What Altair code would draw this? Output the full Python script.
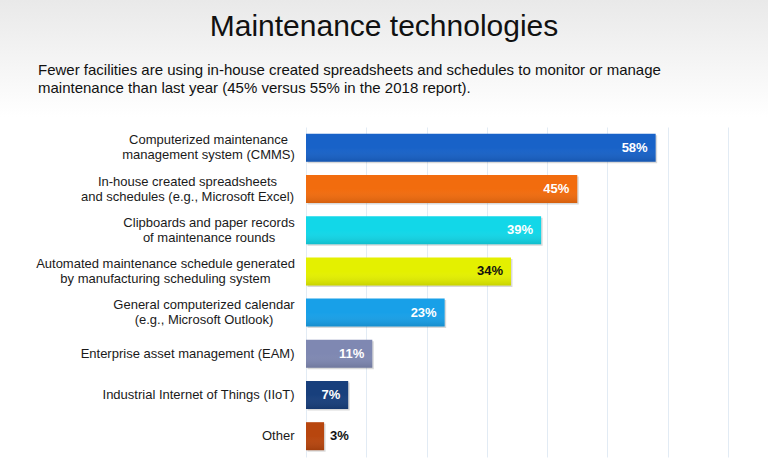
import altair as alt
import pandas as pd

categories = [
    "Computerized maintenance|management system (CMMS)",
    "In-house created spreadsheets|and schedules (e.g., Microsoft Excel)",
    "Clipboards and paper records|of maintenance rounds",
    "Automated maintenance schedule generated|by manufacturing scheduling system",
    "General computerized calendar|(e.g., Microsoft Outlook)",
    "Enterprise asset management (EAM)",
    "Industrial Internet of Things (IIoT)",
    "Other",
]
values = [58, 45, 39, 34, 23, 11, 7, 3]
bar_colors = ["#1862c8", "#f26c0e", "#12d7e8", "#e4f000", "#18a0e8", "#7f88b2", "#183f7c", "#b8460e"]
grid_values = list(range(0, 75, 5))

title_text = "Maintenance technologies"
subtitle_lines = [
    "Fewer facilities are using in-house created spreadsheets and schedules to monitor or manage",
    "maintenance than last year (45% versus 55% in the 2018 report).",
]

# half-widths (px) of the two-line label blocks, so their lines can be centred
# inside a right-aligned block
block_half = [86, 107, 85.5, 129, 90.5]

df = pd.DataFrame({"cat": categories, "pct": values})

FONT = "Liberation Sans"
GAP = 12

pad_conditions = [
    {"test": "datum.value == '%s'" % c, "value": GAP + h}
    for c, h in zip(categories[:5], block_half)
]

y_enc = alt.Y(
    "cat:N",
    sort=categories,
    title=None,
    scale=alt.Scale(paddingInner=0.32, paddingOuter=0.165),
    axis=alt.Axis(
        labelExpr="split(datum.label, '|')",
        ticks=False,
        domain=False,
        labelPadding={"condition": pad_conditions, "value": GAP},
        labelAlign={"condition": {"test": "indexof(datum.value, '|') >= 0", "value": "center"}, "value": "right"},
        labelFontSize=13,
        labelLineHeight=15,
        labelColor="#1a1a1a",
        labelFont=FONT,
        labelLimit=400,
        labelOffset={"condition": {"test": "indexof(datum.value, '|') >= 0", "value": -7.5}, "value": 0},
    ),
)
x_enc = alt.X(
    "pct:Q",
    title=None,
    scale=alt.Scale(domain=[0, 70], nice=False),
    axis=alt.Axis(
        values=grid_values,
        labels=False,
        ticks=False,
        domain=False,
        grid=True,
        gridColor="#e2ebf4",
        gridWidth=1,
    ),
)

base = alt.Chart(df)

shadow = base.mark_bar(color="#000000", opacity=0.15, xOffset=1.5, yOffset=1.5).encode(
    x=alt.X("pct:Q"),
    y=alt.Y("cat:N", sort=categories),
)

bars = base.mark_bar().encode(
    x=x_enc,
    y=y_enc,
    color=alt.Color("cat:N", sort=categories, legend=None,
                    scale=alt.Scale(domain=categories, range=bar_colors)),
)

shade = base.mark_bar().encode(
    x=alt.X("pct:Q"),
    y=alt.Y("cat:N", sort=categories),
    color=alt.value(alt.Gradient(gradient="linear", x1=0, x2=0, y1=0, y2=1,
                                 stops=[alt.GradientStop(color="rgba(255,255,255,0)", offset=0),
                                        alt.GradientStop(color="rgba(255,255,255,0)", offset=0.5),
                                        alt.GradientStop(color="rgba(0,0,0,0.12)", offset=1)])),
)

inside = base.transform_filter("datum.pct >= 5").transform_calculate(
    lab="datum.pct + '%'"
).mark_text(align="right", dx=-8, fontWeight="bold", fontSize=13, font=FONT).encode(
    x="pct:Q",
    y=alt.Y("cat:N", sort=categories),
    text="lab:N",
    color=alt.condition("datum.pct == 34", alt.value("#111111"), alt.value("white")),
)

outside = base.transform_filter("datum.pct < 5").transform_calculate(
    lab="datum.pct + '%'"
).mark_text(align="left", dx=6, fontWeight="bold", fontSize=13, font=FONT, color="#111111").encode(
    x="pct:Q",
    y=alt.Y("cat:N", sort=categories),
    text="lab:N",
)

bg = alt.Chart(pd.DataFrame({"k": [0]})).mark_rect().encode(
    x=alt.value(-306), x2=alt.value(462), y=alt.value(-127), y2=alt.value(-10),
    color=alt.value(alt.Gradient(gradient="linear", x1=0, x2=0, y1=0, y2=1,
                                 stops=[alt.GradientStop(color="#e9e9e9", offset=0),
                                        alt.GradientStop(color="#ffffff", offset=1)])),
)

title_mark = alt.Chart(pd.DataFrame({"t": [title_text]})).mark_text(
    align="center", baseline="alphabetic", fontSize=30, font=FONT, color="#111111"
).encode(x=alt.value(78), y=alt.value(-91), text="t:N")

sub_df = pd.DataFrame({"t": subtitle_lines, "i": [0, 1]})
sub_mark = alt.Chart(sub_df).transform_calculate(yy="-52 + datum.i * 18").mark_text(
    align="left", baseline="alphabetic", fontSize=15, font=FONT, color="#111111"
).encode(
    x=alt.value(-268),
    y=alt.Y("yy:Q", scale=None),
    text="t:N",
)

chart = alt.layer(bg, shadow, bars, shade, inside, outside, title_mark, sub_mark).properties(
    width=422,
    height=330,
    autosize=alt.AutoSizeParams(type="none"),
    padding={"left": 306, "top": 127, "right": 40, "bottom": 8},
    background="white",
).configure_view(stroke=None)

chart.save("out.html", embed_options={"renderer": "svg", "actions": False})
